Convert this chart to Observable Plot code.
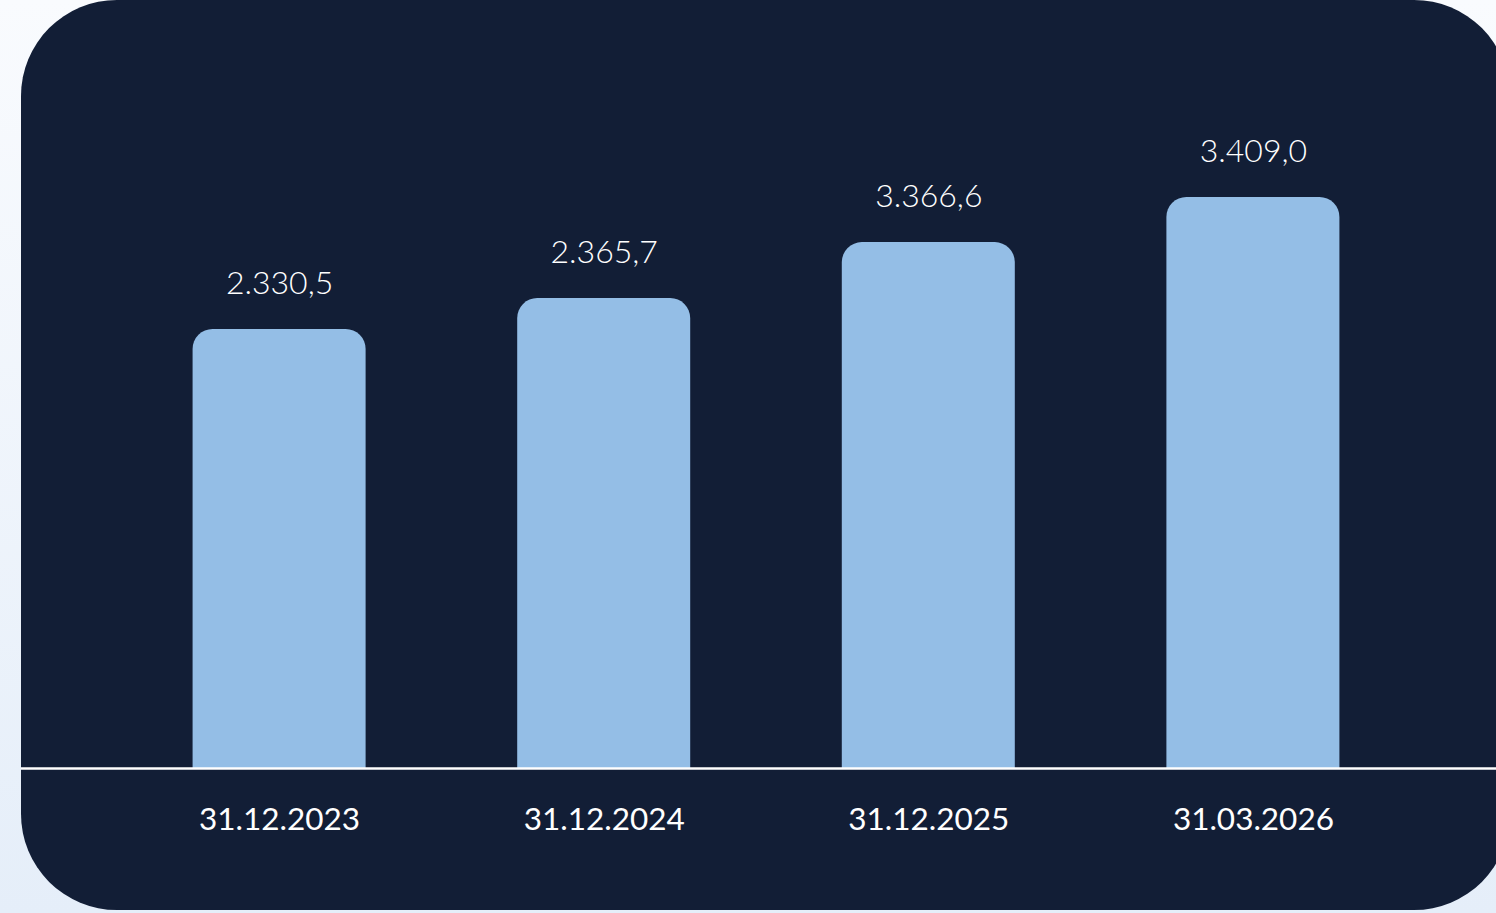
<!DOCTYPE html>
<html>
<head>
<meta charset="utf-8">
<script src="https://cdn.jsdelivr.net/npm/d3@7"></script>
<script src="https://cdn.jsdelivr.net/npm/@observablehq/plot@0.6"></script>
<style>
  html, body { margin: 0; padding: 0; width: 1496px; height: 913px; overflow: hidden; }
  body { background: linear-gradient(180deg, #f9fbfe 0%, #e5eef9 100%); font-family: Lato, "Open Sans", sans-serif; }
  #panel { position: absolute; left: 21px; top: 0; width: 1489px; height: 910px; background: #121e36; border-radius: 96px; overflow: hidden; }
  #panel svg { display: block; }
</style>
</head>
<body>
<div id="panel"></div>
<script>
// Data
const dates = ["31.12.2023", "31.12.2024", "31.12.2025", "31.03.2026"];
const values = [2330.5, 2365.7, 3366.6, 3409.0];
// Drawn bar height relative to the tallest bar (the original bars are not drawn to value scale)
const barLevels = [76.9, 82.3, 92.1, 100];

const data = dates.map((d, i) => ({ date: d, value: values[i], level: barLevels[i] }));
const fmt = v => v.toLocaleString("de-DE", { minimumFractionDigits: 1, maximumFractionDigits: 1 });

const chart = Plot.plot({
  width: 1475,
  height: 913,
  marginLeft: 0,
  marginRight: 0,
  marginTop: 197,
  marginBottom: 145,
  style: { background: "transparent", fontFamily: "Lato, 'Open Sans', sans-serif", overflow: "visible" },
  x: { domain: dates, padding: 0.467, round: false, insetLeft: 20, insetRight: 5, axis: null },
  y: { domain: [0, 100], axis: null },
  marks: [
    Plot.rectY(data, { x: "date", y1: -10, y2: "level", fill: "#94bee6", rx: 20, clip: true }),
    Plot.ruleY([0], { stroke: "#ffffff", strokeWidth: 2.5 }),
    Plot.text(data, { x: "date", y: "level", text: d => fmt(d.value), dy: -46, lineAnchor: "middle", fill: "#ffffff", fontSize: 32, fontWeight: 300 }),
    Plot.text(data, { x: "date", y: 0, text: "date", dy: 51, lineAnchor: "middle", fill: "#ffffff", fontSize: 31.5, fontWeight: 400 })
  ]
});
document.getElementById("panel").appendChild(chart);
</script>
</body>
</html>
